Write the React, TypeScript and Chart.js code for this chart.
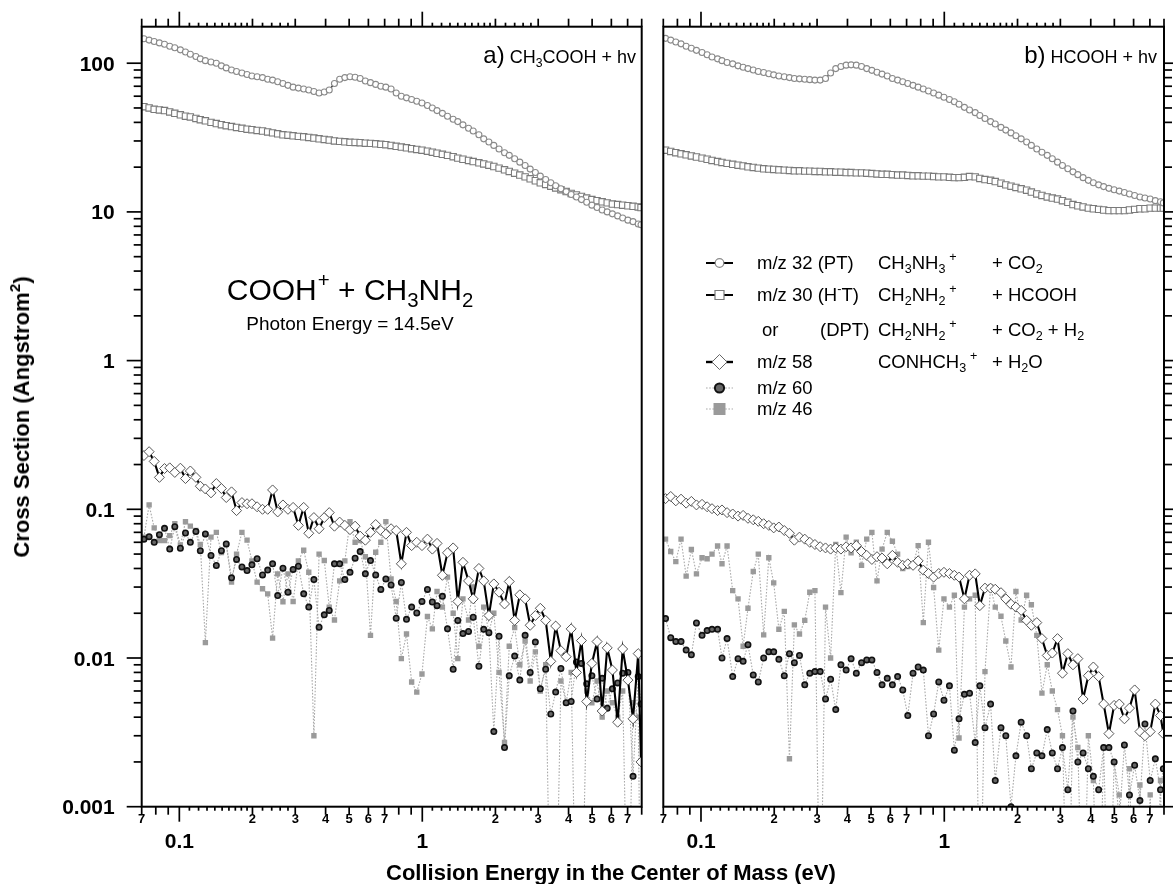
import React, { useEffect, useRef } from "react";
import { Chart, registerables } from "chart.js";

Chart.register(...registerables);

// ---------------- data ----------------
const ENERGY = [
  0.0715, 0.0751, 0.0788, 0.0828, 0.0869, 0.0913, 0.0958, 0.101, 0.106, 0.111,
  0.117, 0.122, 0.128, 0.135, 0.142, 0.149, 0.156, 0.164, 0.172, 0.181,
  0.19, 0.199, 0.209, 0.22, 0.231, 0.242, 0.254, 0.267, 0.28, 0.294,
  0.309, 0.325, 0.341, 0.358, 0.376, 0.395, 0.414, 0.435, 0.457, 0.48,
  0.504, 0.529, 0.555, 0.583, 0.612, 0.643, 0.675, 0.708, 0.744, 0.781,
  0.82, 0.861, 0.904, 0.949, 0.997, 1.05, 1.1, 1.15, 1.21, 1.27,
  1.34, 1.4, 1.47, 1.55, 1.62, 1.71, 1.79, 1.88, 1.97, 2.07,
  2.18, 2.28, 2.4, 2.52, 2.65, 2.78, 2.92, 3.06, 3.22, 3.38,
  3.54, 3.72, 3.91, 4.1, 4.31, 4.52, 4.75, 4.99, 5.24, 5.5,
  5.77, 6.06, 6.37, 6.68, 7.02, 7.37, 7.74, 7.95,
];

// panel a) CH3COOH + hv
const A_MZ32 = [
  146, 143, 140, 137, 134, 130, 127, 123, 119, 115,
  111, 107, 104, 102, 100, 96, 93, 90, 88, 86,
  84, 82, 81, 80, 78, 77, 75, 73, 71, 69,
  68, 67, 66, 64.5, 63, 64, 66, 73, 78, 80,
  81, 80.5, 79, 76, 74, 72, 70, 69, 67, 63,
  60, 58.5, 57, 55.5, 54, 52, 50, 48, 46, 44,
  42, 40.5, 38.5, 36.5, 35, 33, 31, 29.5, 28, 26.5,
  25, 24, 22.8, 21.6, 20.5, 19.4, 18.4, 17.4, 16.5, 15.7,
  15, 14.3, 13.7, 13.1, 12.6, 12.1, 11.6, 11.1, 10.7, 10.3,
  10, 9.7, 9.4, 9.1, 8.8, 8.6, 8.3, 8.2,
];
const A_MZ30 = [
  51, 50, 49, 48.5, 48, 47, 46, 45, 44, 43.5,
  42.5, 41.7, 41, 40, 39.3, 38.6, 38, 37.5, 37, 36.5,
  36, 35.7, 35.3, 35, 34.5, 34, 33.5, 33, 32.8, 32.5,
  32.2, 32, 31.7, 31.4, 31, 30.7, 30.4, 30, 29.8, 29.6,
  29.4, 29.3, 29.2, 29, 28.9, 28.7, 28.5, 28.3, 28, 27.6,
  27.3, 27, 26.6, 26.3, 26, 25.6, 25.2, 24.8, 24.4, 24,
  23.5, 23, 22.6, 22.2, 21.8, 21.4, 21, 20.6, 20.2, 19.7,
  19.2, 18.7, 18.2, 17.7, 17.2, 16.7, 16.2, 15.7, 15.3, 14.9,
  14.5, 14.1, 13.7, 13.3, 13, 12.7, 12.4, 12.1, 11.9, 11.7,
  11.5, 11.3, 11.2, 11.1, 11, 10.9, 10.8, 10.7,
];
const A_MZ58 = [
  0.23, 0.244, 0.21, 0.164, 0.188, 0.19, 0.177, 0.189, 0.161, 0.181,
  0.164, 0.143, 0.137, 0.129, 0.149, 0.138, 0.12, 0.131, 0.098, 0.111,
  0.109, 0.109, 0.104, 0.1, 0.1, 0.135, 0.096, 0.107, 0.1, 0.103,
  0.078, 0.103, 0.069, 0.088, 0.074, 0.088, 0.095, 0.077, 0.082, 0.078,
  0.073, 0.077, 0.066, 0.062, 0.07, 0.079, 0.072, 0.068, 0.074, 0.072,
  0.043, 0.07, 0.057, 0.06, 0.057, 0.063, 0.054, 0.059, 0.036, 0.051,
  0.055, 0.024, 0.044, 0.033, 0.025, 0.04, 0.033, 0.0193, 0.0315, 0.0277,
  0.0231, 0.0327, 0.0179, 0.0266, 0.025, 0.0166, 0.0193, 0.0216, 0.0179, 0.0095,
  0.0164, 0.0112, 0.0102, 0.0157, 0.008, 0.0131, 0.0051, 0.0092, 0.0129, 0.0044,
  0.0117, 0.0083, 0.0037, 0.0115, 0.0071, 0.0039, 0.0107, 0.002,
];
const A_MZ60 = [
  0.063, 0.0655, 0.06, 0.0675, 0.0745, 0.054, 0.0764, 0.0547, 0.0693, 0.06,
  0.071, 0.0527, 0.0683, 0.0489, 0.0419, 0.0527, 0.0585, 0.0346, 0.046, 0.041,
  0.0387, 0.0423, 0.0465, 0.0362, 0.039, 0.043, 0.0263, 0.0402, 0.0277, 0.0394,
  0.0414, 0.027, 0.022, 0.0337, 0.0161, 0.0195, 0.0209, 0.043, 0.043, 0.0337,
  0.0377, 0.0469, 0.052, 0.0368, 0.0452, 0.0362, 0.0289, 0.034, 0.031, 0.0185,
  0.0322, 0.0182, 0.022, 0.0201, 0.024, 0.0289, 0.0238, 0.0225, 0.026, 0.0157,
  0.0084, 0.0179, 0.0146, 0.0151, 0.0188, 0.0088, 0.0156, 0.0148, 0.0032, 0.014,
  0.0025, 0.0076, 0.0103, 0.0071, 0.0142, 0.008, 0.0128, 0.0062, 0.0084, 0.0042,
  0.0059, 0.0085, 0.005, 0.0051, 0.0094, 0.0092, 0.0067, 0.0076, 0.0053, 0.0073,
  0.0046, 0.0062, 0.0068, 0.0079, 0.008, 0.0016, 0.0075, 0.0049,
];
const A_MZ46 = [
  0.065, 0.107, 0.075, 0.0616, 0.0616, 0.0665, 0.08, 0.0577, 0.0824, 0.077,
  0.072, 0.058, 0.0127, 0.065, 0.07, 0.0512, 0.058, 0.0324, 0.05, 0.07,
  0.062, 0.045, 0.0324, 0.0292, 0.027, 0.0136, 0.0368, 0.0239, 0.0368, 0.024,
  0.045, 0.053, 0.0377, 0.003, 0.05, 0.0453, 0.022, 0.018, 0.033, 0.045,
  0.0826, 0.06, 0.0616, 0.048, 0.0142, 0.0514, 0.06, 0.0826, 0.034, 0.024,
  0.0099, 0.0145, 0.0069, 0.0059, 0.0078, 0.019, 0.0157, 0.028, 0.022, 0.035,
  0.02, 0.0099, 0.025, 0.018, 0.03, 0.012, 0.022, 0.015, 0.02, 0.008,
  0.0027, 0.012, 0.016, 0.009, 0.013, 0.007, 0.011, 0.006, 0.009, 0.0001,
  0.0001, 0.007, 0.005, 0.008, 0.0001, 0.0001, 0.006, 0.005, 0.007, 0.004,
  0.006, 0.005, 0.004, 0.006, 0.0001, 0.005, 0.004, 0.0001,
];

// panel b) HCOOH + hv
const B_MZ32 = [
  147, 143, 139, 135, 130, 126, 122, 118, 114, 110,
  107, 104, 101, 99, 96, 94, 92, 90, 88, 86.5,
  85, 83.5, 82, 81, 80, 79, 78.5, 78, 77.5, 77,
  77, 79, 86, 92, 95, 97, 97.5, 97, 95, 92,
  89.5, 87, 84.5, 82, 79, 77, 75, 73, 71, 69,
  67, 65, 63, 61, 59, 57, 55, 53, 50.5, 48.5,
  46.5, 44.5, 42.5, 40.5, 39, 37, 35.5, 34, 32.5, 31,
  29.5, 28, 26.5, 25.2, 24, 22.8, 21.6, 20.5, 19.5, 18.6,
  17.8, 17, 16.3, 15.7, 15.2, 14.8, 14.4, 14.1, 13.8, 13.5,
  13.2, 12.9, 12.6, 12.4, 12.2, 11.9, 11.7, 11.5,
];
const B_MZ30 = [
  26, 25.5, 25, 24.6, 24.2, 23.8, 23.4, 23, 22.6, 22.2,
  21.8, 21.5, 21.2, 20.9, 20.6, 20.4, 20.1, 19.9, 19.7, 19.5,
  19.4, 19.3, 19.2, 19.1, 19, 18.9, 18.9, 18.8, 18.8, 18.7,
  18.7, 18.6, 18.6, 18.5, 18.5, 18.4, 18.4, 18.3, 18.3, 18.2,
  18.1, 18, 17.9, 17.9, 17.8, 17.7, 17.7, 17.6, 17.5, 17.5,
  17.4, 17.4, 17.3, 17.2, 17.2, 17.1, 17, 17, 17.1, 17.3,
  17.2, 16.8, 16.5, 16.3, 16, 15.6, 15.2, 14.9, 14.6, 14.3,
  14, 13.6, 13.2, 12.9, 12.6, 12.4, 12.2, 11.9, 11.6, 11.2,
  11, 10.8, 10.6, 10.5, 10.4, 10.3, 10.2, 10.2, 10.2, 10.2,
  10.3, 10.4, 10.5, 10.5, 10.6, 10.6, 10.6, 10.6,
];
const B_MZ58 = [
  0.118, 0.122, 0.114, 0.117, 0.11, 0.113, 0.107, 0.108, 0.104, 0.101,
  0.098, 0.099, 0.095, 0.093, 0.09, 0.091, 0.087, 0.085, 0.083, 0.08,
  0.078, 0.075, 0.076, 0.072, 0.069, 0.062, 0.065, 0.063, 0.06, 0.058,
  0.056, 0.055, 0.054, 0.055, 0.054, 0.056, 0.055, 0.057, 0.052, 0.049,
  0.046, 0.048, 0.047, 0.043, 0.049, 0.044, 0.042, 0.043, 0.042, 0.045,
  0.039, 0.037, 0.035, 0.037, 0.0377, 0.037, 0.036, 0.035, 0.025, 0.036,
  0.0368, 0.0225, 0.0295, 0.0295, 0.029, 0.0275, 0.025, 0.023, 0.022, 0.0209,
  0.0179, 0.0166, 0.0173, 0.0135, 0.0104, 0.0108, 0.0135, 0.0079, 0.0107, 0.009,
  0.0099, 0.0053, 0.0076, 0.0087, 0.0075, 0.0049, 0.0031, 0.0048, 0.0049, 0.0039,
  0.0046, 0.0061, 0.0032, 0.003, 0.0032, 0.0049, 0.0041, 0.0031,
];
const B_MZ60 = [
  0.0184, 0.0137, 0.0129, 0.0129, 0.0113, 0.0105, 0.0172, 0.0142, 0.0153, 0.0156,
  0.0156, 0.01, 0.0135, 0.0075, 0.0099, 0.0095, 0.0123, 0.0077, 0.0069, 0.01,
  0.011, 0.011, 0.0098, 0.0076, 0.0107, 0.0093, 0.0104, 0.0066, 0.0079, 0.0081,
  0.0081, 0.0053, 0.0072, 0.0045, 0.009, 0.0083, 0.0099, 0.0079, 0.0093, 0.0097,
  0.0097, 0.008, 0.0066, 0.0073, 0.0066, 0.0075, 0.0061, 0.0041, 0.0079, 0.0087,
  0.0083, 0.003, 0.0042, 0.0069, 0.0052, 0.0065, 0.0024, 0.0039, 0.0057, 0.0058,
  0.0027, 0.0065, 0.0034, 0.0049, 0.0015, 0.0034, 0.003, 0.001, 0.0022, 0.0037,
  0.003, 0.0018, 0.0023, 0.0022, 0.0033, 0.0023, 0.0018, 0.0025, 0.0013, 0.0044,
  0.002, 0.0023, 0.0018, 0.0016, 0.0013, 0.0025, 0.0025, 0.002, 0.0008, 0.0026,
  0.0012, 0.0019, 0.0011, 0.0036, 0.0015, 0.0021, 0.0013, 0.0018,
];
const B_MZ46 = [
  0.063, 0.052, 0.0445, 0.063, 0.0355, 0.0537, 0.0368, 0.0472, 0.0465, 0.05,
  0.0566, 0.043, 0.0566, 0.0284, 0.025, 0.012, 0.0216, 0.0382, 0.05, 0.0143,
  0.0472, 0.032, 0.0156, 0.0206, 0.0021, 0.0167, 0.0145, 0.0179, 0.0277, 0.0284,
  0.0001, 0.022, 0.01, 0.058, 0.0275, 0.065, 0.051, 0.06, 0.042, 0.063,
  0.07, 0.033, 0.054, 0.07, 0.061, 0.05, 0.04, 0.0412, 0.042, 0.057,
  0.0173, 0.06, 0.0298, 0.0113, 0.025, 0.022, 0.0264, 0.0029, 0.022, 0.025,
  0.0264, 0.0001, 0.0081, 0.03, 0.022, 0.0191, 0.013, 0.0087, 0.028, 0.018,
  0.0264, 0.0228, 0.0142, 0.0058, 0.009, 0.006, 0.0045, 0.003, 0.0001, 0.004,
  0.0025, 0.0001, 0.003, 0.0015, 0.0001, 0.0025, 0.0001, 0.002, 0.0012, 0.0001,
  0.0018, 0.0001, 0.0014, 0.0001, 0.0012, 0.0001, 0.0015, 0.0001,
];

// axes
const X_MIN = 0.07;
const X_MAX = 8.0;
const Y_MIN = 0.001;
const Y_MAX = 176;
const X_LONG_TICKS = [0.1, 1];
const X_LONG_LABELS = ["0.1", "1"];
const X_MID_TICKS = [0.07, 0.08, 0.09, 0.2, 0.3, 0.4, 0.5, 0.6, 0.7, 0.8, 0.9, 2, 3, 4, 5, 6, 7, 8];
const X_SHORT_TICKS = [
  0.11, 0.12, 0.13, 0.14, 0.15, 0.16, 0.17, 0.18, 0.19, 0.22, 0.24, 0.26, 0.28,
  1.1, 1.2, 1.3, 1.4, 1.5, 1.6, 1.7, 1.8, 1.9, 2.2, 2.4, 2.6, 2.8,
];
const X_DIGIT_TICKS = [0.07, 0.2, 0.3, 0.4, 0.5, 0.6, 0.7, 2, 3, 4, 5, 6, 7];
const X_DIGIT_LABELS = ["7", "2", "3", "4", "5", "6", "7", "2", "3", "4", "5", "6", "7"];
const Y_DECADES = [0.001, 0.01, 0.1, 1, 10, 100];
const Y_LABELS = ["0.001", "0.01", "0.1", "1", "10", "100"];

// ---------------- layout ----------------
const W = 1173;
const H = 884;
const TOP = 26.7;
const BOTTOM = 806.7;
const A_LEFT = 141.7;
const A_RIGHT = 641.7;
const B_LEFT = 663.3;
const B_RIGHT = 1164;
const FONT = "'Liberation Sans', Arial, Helvetica, sans-serif";
const LEGEND_SYMBOL_Y = [263, 295, 362, 388, 409];

const yMinorTicks = (): number[] => {
  const out: number[] = [];
  Y_DECADES.forEach((d) => {
    for (let k = 2; k <= 9; k++) {
      const v = d * k;
      if (v <= Y_MAX) out.push(v);
    }
  });
  return out;
};

function makeDatasets(s32: number[], s30: number[], s58: number[], s60: number[], s46: number[]) {
  const pts = (arr: number[]) => ENERGY.map((e, i) => ({ x: e, y: arr[i] }));
  const dotted = { borderColor: "#a9a9a9", borderWidth: 1.1, borderDash: [1.6, 1.6] };
  return [
    {
      label: "m/z 32", data: pts(s32), borderColor: "#000", borderWidth: 1.3,
      pointStyle: "circle", pointRadius: 3, pointBorderColor: "#8a8a8a",
      pointBackgroundColor: "#fff", pointBorderWidth: 1.1,
    },
    {
      label: "m/z 30", data: pts(s30), borderColor: "#000", borderWidth: 1.3,
      pointStyle: "rect", pointRadius: 4.5, pointBorderColor: "#7a7a7a",
      pointBackgroundColor: "#fff", pointBorderWidth: 1.1,
    },
    {
      label: "m/z 58", data: pts(s58), borderColor: "#000", borderWidth: 2.1,
      pointStyle: "rectRot", pointRadius: 5, pointBorderColor: "#555",
      pointBackgroundColor: "#fff", pointBorderWidth: 1,
    },
    {
      label: "m/z 60", data: pts(s60), ...dotted,
      pointStyle: "circle", pointRadius: 2.7, pointBorderColor: "#111",
      pointBackgroundColor: "#666", pointBorderWidth: 1.6,
    },
    {
      label: "m/z 46", data: pts(s46), ...dotted,
      pointStyle: "rect", pointRadius: 3.8, pointBorderColor: "#9a9a9a",
      pointBackgroundColor: "#9a9a9a", pointBorderWidth: 0,
    },
  ];
}

function drawLegendSymbols(ctx: CanvasRenderingContext2D) {
  const x0 = 706, x1 = 733, cx = 719.5;
  LEGEND_SYMBOL_Y.forEach((y, i) => {
    ctx.save();
    ctx.beginPath();
    if (i < 3) {
      ctx.setLineDash([]);
      ctx.strokeStyle = "#000";
      ctx.lineWidth = i === 2 ? 2.4 : 2;
    } else {
      ctx.setLineDash([1.6, 1.6]);
      ctx.strokeStyle = "#a9a9a9";
      ctx.lineWidth = 1.2;
    }
    ctx.moveTo(x0, y);
    ctx.lineTo(x1, y);
    ctx.stroke();
    ctx.setLineDash([]);
    ctx.beginPath();
    if (i === 0) {
      ctx.arc(cx, y, 4.3, 0, Math.PI * 2);
      ctx.fillStyle = "#fff"; ctx.fill();
      ctx.strokeStyle = "#8a8a8a"; ctx.lineWidth = 1.2; ctx.stroke();
    } else if (i === 1) {
      ctx.rect(cx - 4.5, y - 4.5, 9, 9);
      ctx.fillStyle = "#fff"; ctx.fill();
      ctx.strokeStyle = "#7a7a7a"; ctx.lineWidth = 1.2; ctx.stroke();
    } else if (i === 2) {
      ctx.moveTo(cx - 7.5, y); ctx.lineTo(cx, y - 7.5); ctx.lineTo(cx + 7.5, y); ctx.lineTo(cx, y + 7.5); ctx.closePath();
      ctx.fillStyle = "#fff"; ctx.fill();
      ctx.strokeStyle = "#666"; ctx.lineWidth = 1; ctx.stroke();
    } else if (i === 3) {
      ctx.arc(cx, y, 4.6, 0, Math.PI * 2);
      ctx.fillStyle = "#666"; ctx.fill();
      ctx.strokeStyle = "#111"; ctx.lineWidth = 2; ctx.stroke();
    } else {
      ctx.rect(cx - 6, y - 6, 12, 12);
      ctx.fillStyle = "#9a9a9a"; ctx.fill();
    }
    ctx.restore();
  });
}

function axesPlugin(side: "left" | "right") {
  return {
    id: "sigmaAxes",
    afterDraw(chart: any) {
      const { ctx, chartArea: a } = chart;
      const xs = chart.scales.x;
      const ys = chart.scales.y;
      ctx.save();
      ctx.strokeStyle = "#000";
      ctx.lineCap = "butt";
      ctx.lineWidth = 2;
      ctx.strokeRect(a.left, a.top, a.right - a.left, a.bottom - a.top);
      ctx.lineWidth = 1.7;
      const vline = (px: number, y0: number, y1: number) => {
        ctx.beginPath(); ctx.moveTo(px, y0); ctx.lineTo(px, y1); ctx.stroke();
      };
      const hline = (py: number, x0: number, x1: number) => {
        ctx.beginPath(); ctx.moveTo(x0, py); ctx.lineTo(x1, py); ctx.stroke();
      };
      const xt = (vals: number[], len: number) =>
        vals.forEach((v) => {
          const px = xs.getPixelForValue(v);
          vline(px, a.bottom, a.bottom + len);
          vline(px, a.top, a.top - len);
        });
      xt(X_LONG_TICKS, 15);
      xt(X_MID_TICKS, 8);
      xt(X_SHORT_TICKS, 4);
      const yt = (vals: number[], len: number) =>
        vals.forEach((v) => {
          const py = ys.getPixelForValue(v);
          if (side === "left") hline(py, a.left, a.left - len);
          else hline(py, a.right, a.right + len);
        });
      yt(Y_DECADES, 15);
      yt(yMinorTicks(), 8);

      ctx.fillStyle = "#000";
      ctx.textAlign = "center";
      ctx.textBaseline = "alphabetic";
      ctx.font = `bold 13px ${FONT}`;
      X_DIGIT_TICKS.forEach((v, i) => ctx.fillText(X_DIGIT_LABELS[i], xs.getPixelForValue(v), a.bottom + 16.5));
      ctx.font = `bold 21px ${FONT}`;
      X_LONG_TICKS.forEach((v, i) => ctx.fillText(X_LONG_LABELS[i], xs.getPixelForValue(v), a.bottom + 41.5));
      if (side === "left") {
        ctx.textAlign = "right";
        ctx.font = `bold 21px ${FONT}`;
        Y_DECADES.forEach((v, i) => ctx.fillText(Y_LABELS[i], a.left - 27, ys.getPixelForValue(v) + 7.5));
      } else {
        drawLegendSymbols(ctx);
      }
      ctx.restore();
    },
  };
}

function buildChart(canvas: HTMLCanvasElement, side: "left" | "right", sets: number[][]) {
  const padding =
    side === "left"
      ? { left: A_LEFT, right: W - A_RIGHT, top: TOP, bottom: H - BOTTOM }
      : { left: B_LEFT, right: W - B_RIGHT, top: TOP, bottom: H - BOTTOM };
  return new Chart(canvas, {
    type: "line",
    data: { datasets: makeDatasets(sets[0], sets[1], sets[2], sets[3], sets[4]) as any },
    options: {
      responsive: false,
      animation: false,
      events: [],
      layout: { padding },
      plugins: { legend: { display: false }, tooltip: { enabled: false } },
      scales: {
        x: { type: "logarithmic", min: X_MIN, max: X_MAX, display: false },
        y: { type: "logarithmic", min: Y_MIN, max: Y_MAX, display: false },
      },
    } as any,
    plugins: [axesPlugin(side) as any],
  });
}

const Sub = ({ c }: { c: string }) => (
  <span style={{ fontSize: "0.68em", position: "relative", top: "0.32em" }}>{c}</span>
);
const Sup = ({ c, ml = 0.1 }: { c: string; ml?: number }) => (
  <span style={{ fontSize: "0.68em", position: "relative", top: "-0.62em", marginLeft: `${ml}em` }}>{c}</span>
);

const abs = (left: number, top: number, extra: any = {}) => ({
  position: "absolute" as const,
  left,
  top,
  whiteSpace: "nowrap" as const,
  fontFamily: FONT,
  color: "#000",
  lineHeight: 1,
  ...extra,
});

export default function App() {
  const refA = useRef<HTMLCanvasElement>(null);
  const refB = useRef<HTMLCanvasElement>(null);

  useEffect(() => {
    const ca = buildChart(refA.current!, "left", [A_MZ32, A_MZ30, A_MZ58, A_MZ60, A_MZ46]);
    const cb = buildChart(refB.current!, "right", [B_MZ32, B_MZ30, B_MZ58, B_MZ60, B_MZ46]);
    return () => {
      ca.destroy();
      cb.destroy();
    };
  }, []);

  const legendFont = 18.5;
  const mid = { transform: "translateY(-50%)", fontSize: legendFont };

  return (
    <div style={{ position: "absolute", left: 0, top: 0, width: W, height: H, background: "#fff", overflow: "hidden" }}>
      <canvas ref={refA} width={W} height={H} style={{ position: "absolute", left: 0, top: 0, width: W, height: H }} />
      <canvas ref={refB} width={W} height={H} style={{ position: "absolute", left: 0, top: 0, width: W, height: H }} />

      {/* axis titles */}
      <div
        style={abs(22, 417, {
          fontSize: 22, fontWeight: "bold",
          transform: "translate(-50%, -50%) rotate(-90deg)",
        })}
      >
        Cross Section (Angstrom<Sup c="2" ml={0.02} />)
      </div>
      <div style={abs(386, 862, { fontSize: 22, fontWeight: "bold" })}>
        Collision Energy in the Center of Mass (eV)
      </div>

      {/* panel labels */}
      <div style={{ ...abs(0, 43, { fontSize: 24, lineHeight: "24px" }), left: "auto", right: W - 636 }}>
        a)<span style={{ fontSize: 18 }}> CH<Sub c="3" />COOH + hv</span>
      </div>
      <div style={{ ...abs(0, 43, { fontSize: 24, lineHeight: "24px" }), left: "auto", right: W - 1157 }}>
        b)<span style={{ fontSize: 18 }}> HCOOH + hv</span>
      </div>

      {/* reaction annotation */}
      <div style={abs(350, 290, { fontSize: 30, transform: "translate(-50%, -50%)" })}>
        COOH<Sup c="+" ml={0.05} /> + CH<Sub c="3" />NH<Sub c="2" />
      </div>
      <div style={abs(350, 323, { fontSize: 19, transform: "translate(-50%, -50%)" })}>
        Photon Energy = 14.5eV
      </div>

      {/* legend text */}
      <div style={abs(757, 263, mid)}>m/z 32 (PT)</div>
      <div style={abs(878, 263, mid)}>CH<Sub c="3" />NH<Sub c="3" /><Sup c="+" ml={0.3} /></div>
      <div style={abs(992, 263, mid)}>+ CO<Sub c="2" /></div>

      <div style={abs(757, 295, mid)}>m/z 30 (H<Sup c="-" ml={0} />T)</div>
      <div style={abs(878, 295, mid)}>CH<Sub c="2" />NH<Sub c="2" /><Sup c="+" ml={0.3} /></div>
      <div style={abs(992, 295, mid)}>+ HCOOH</div>

      <div style={abs(762, 330, mid)}>or</div>
      <div style={abs(820, 330, mid)}>(DPT)</div>
      <div style={abs(878, 330, mid)}>CH<Sub c="2" />NH<Sub c="2" /><Sup c="+" ml={0.3} /></div>
      <div style={abs(992, 330, mid)}>+ CO<Sub c="2" /> + H<Sub c="2" /></div>

      <div style={abs(757, 362, mid)}>m/z 58</div>
      <div style={abs(878, 362, mid)}>CONHCH<Sub c="3" /><Sup c="+" ml={0.3} /></div>
      <div style={abs(992, 362, mid)}>+ H<Sub c="2" />O</div>

      <div style={abs(757, 388, mid)}>m/z 60</div>
      <div style={abs(757, 409, mid)}>m/z 46</div>
    </div>
  );
}
